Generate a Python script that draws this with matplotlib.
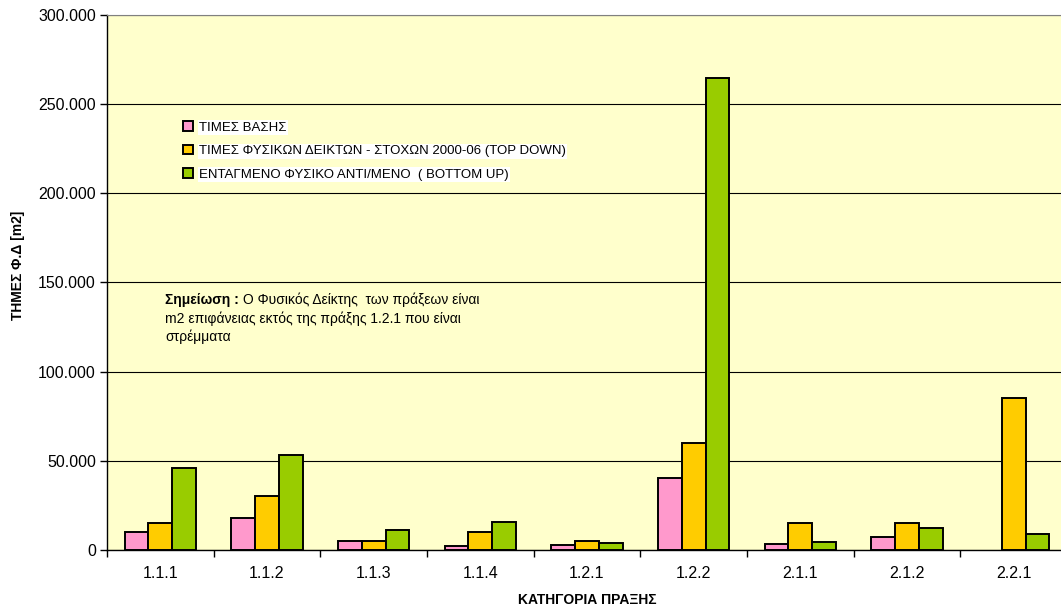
import numpy as np
import matplotlib
matplotlib.use("Agg")
import matplotlib.pyplot as plt
import matplotlib.ticker as ticker

plt.rcParams['font.family'] = ['Liberation Sans', 'DejaVu Sans']

categories = ["1.1.1", "1.1.2", "1.1.3", "1.1.4", "1.2.1", "1.2.2", "2.1.1", "2.1.2", "2.2.1"]
base_vals = [10000, 18000, 5000, 2000, 2600, 40000, 3400, 7300, 0]
target_vals = [15000, 30000, 5000, 10000, 5000, 60000, 15000, 15000, 85000]
bottom_up_vals = [45700, 53200, 11000, 15800, 3700, 264700, 4300, 12300, 8900]

series_names = ["ΤΙΜΕΣ ΒΑΣΗΣ",
                "ΤΙΜΕΣ ΦΥΣΙΚΩΝ ΔΕΙΚΤΩΝ - ΣΤΟΧΩΝ 2000-06 (TOP DOWN)",
                "ΕΝΤΑΓΜΕΝΟ ΦΥΣΙΚΟ ΑΝΤΙ/ΜΕΝΟ  ( BOTTOM UP)"]
colors = ["#FF99CC", "#FFCC00", "#99CC00"]

fig = plt.figure(figsize=(10.61, 6.10), dpi=100)
ax = fig.add_axes([107/1061, 60.3/610, 960/1061, 534.5/610])
ax.set_facecolor("#FFFFCC")

x = np.arange(len(categories))
w = 0.223
for i, (vals, name, col) in enumerate(zip([base_vals, target_vals, bottom_up_vals], series_names, colors)):
    bars = ax.bar(x + (i - 1) * w, vals, width=w, color=col, edgecolor="black",
                  linewidth=1.4, label=name, zorder=3)
    # excel draws nothing for zero values
    for b, v in zip(bars, vals):
        if v == 0:
            b.set_visible(False)

ax.set_xlim(-0.5, len(categories) - 0.5)
ax.set_ylim(0, 300000)
ax.set_yticks(np.arange(0, 300001, 50000))
ax.yaxis.set_major_formatter(ticker.FuncFormatter(lambda v, p: f"{int(v):,}".replace(",", ".")))
ax.yaxis.grid(True, color="black", linewidth=0.8, zorder=1)
ax.set_axisbelow(True)

ax.set_xticks(x)
ax.set_xticklabels(categories)
ax.set_xticks(np.arange(-0.5, len(categories), 1), minor=True)
ax.tick_params(axis="x", which="major", length=0, pad=12, labelsize=11.5)
ax.tick_params(axis="x", which="minor", length=5, width=1, direction="out")
ax.tick_params(axis="y", length=5, width=1, labelsize=11.5, pad=3)

ax.spines["top"].set_color("#808080")
ax.spines["right"].set_visible(False)
ax.spines["left"].set_linewidth(1)
ax.spines["bottom"].set_linewidth(1)

fig.text(18/1061, 1 - 265/610, "ΤΗΜΕΣ Φ.Δ [m2]", fontsize=10, fontweight="bold",
         rotation=90, ha="center", va="center")
fig.text(587/1061, 1 - 600/610, "ΚΑΤΗΓΟΡΙΑ ΠΡΑΞΗΣ", fontsize=10, fontweight="bold",
         ha="center", va="center")

leg = ax.legend(loc="upper left", bbox_to_anchor=(71/960, 1 - 101/534.5), frameon=False,
                fontsize=9.5, handlelength=0.7, handleheight=0.7, handletextpad=0.5,
                labelspacing=0.85, borderaxespad=0)
for t in leg.get_texts():
    t.set_bbox(dict(facecolor="white", edgecolor="none", pad=1))

note_x = 165 / 1061
t_bold = fig.text(note_x, 1 - 300/610, "Σημείωση : ", fontsize=10, fontweight="bold", va="center")
fig.canvas.draw()
ext = t_bold.get_window_extent(fig.canvas.get_renderer())
fig.text(ext.x1 / fig.bbox.width, 1 - 300/610, "Ο Φυσικός Δείκτης  των πράξεων είναι",
         fontsize=10, va="center")
fig.text(note_x, 1 - 318.5/610, "m2 επιφάνειας εκτός της πράξης 1.2.1 που είναι", fontsize=10, va="center")
fig.text(note_x, 1 - 337/610, "στρέμματα", fontsize=10, va="center")

fig.savefig("out.png", dpi=100)
